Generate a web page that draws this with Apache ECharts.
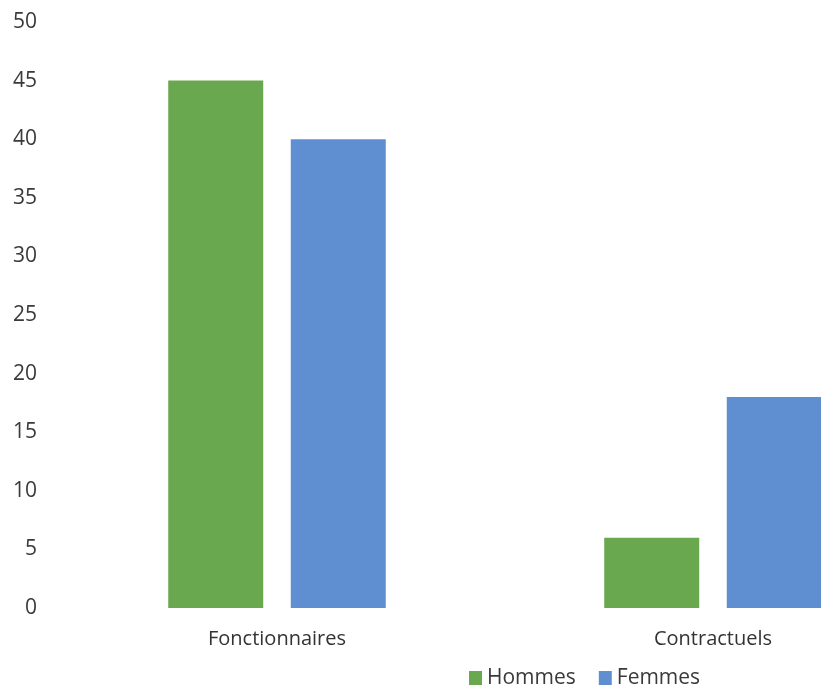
<!DOCTYPE html>
<html><head><meta charset="utf-8">
<script src="https://cdn.jsdelivr.net/npm/echarts@6/dist/echarts.min.js"></script>
<style>html,body{margin:0;padding:0;background:#fff;overflow:hidden;width:821px;height:687px}#c{width:931px;height:687px}</style>
</head><body><div id="c"></div>
<script>
const categories = ['Fonctionnaires', 'Contractuels'];
const hommes = [45, 6];
const femmes = [40, 18];
const yTicks = [0, 5, 10, 15, 20, 25, 30, 35, 40, 45, 50];

const chart = echarts.init(document.getElementById('c'));
chart.setOption({
  animation: false,
  textStyle: { fontFamily: 'Open Sans, sans-serif' },
  grid: { left: 59, right: 0, top: 22, bottom: 79, containLabel: false },
  legend: {
    left: 469, top: 666, padding: 0, itemWidth: 13, itemHeight: 14, itemGap: 23, icon: 'rect',
    textStyle: { fontSize: 21, lineHeight: 24, color: '#3a3a3a', fontFamily: 'Open Sans, sans-serif' },
    data: ['Hommes', 'Femmes']
  },
  xAxis: {
    type: 'category', data: categories,
    axisLine: { show: false }, axisTick: { show: false },
    axisLabel: { fontSize: 20, color: '#333', margin: 21 }
  },
  yAxis: {
    type: 'value', min: yTicks[0], max: yTicks[yTicks.length - 1], interval: 5,
    splitLine: { show: false }, axisLine: { show: false }, axisTick: { show: false },
    axisLabel: { fontSize: 21, color: '#3a3a3a', margin: 22 }
  },
  series: [
    { name: 'Hommes', type: 'bar', data: hommes, barWidth: 95, barGap: '29%', itemStyle: { color: '#6AA84F' } },
    { name: 'Femmes', type: 'bar', data: femmes, barWidth: 95, itemStyle: { color: '#5F8FD0' } }
  ]
});
</script></body></html>
